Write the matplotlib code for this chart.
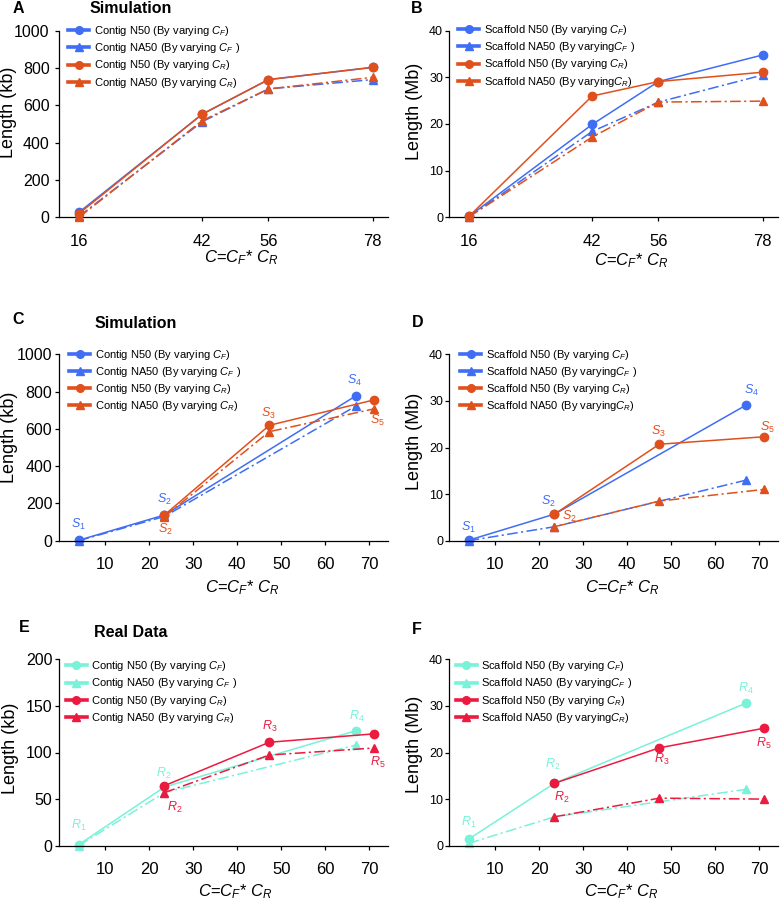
import matplotlib
matplotlib.use("Agg")
import matplotlib.pyplot as plt
from matplotlib.lines import Line2D

plt.rcParams['font.family'] = ['Liberation Sans', 'DejaVu Sans']
plt.rcParams['mathtext.fontset'] = 'custom'
plt.rcParams['mathtext.it'] = 'Liberation Sans:italic'
plt.rcParams['mathtext.rm'] = 'Liberation Sans'
plt.rcParams['mathtext.bf'] = 'Liberation Sans:bold'

BLUE = '#3f6df4'
ORANGE = '#e0501c'
CYAN = '#78f2d8'
RED = '#ec1a3e'

# ---------------- data ----------------
x_ab = [16, 42, 56, 78]
a_n50_cf = [27, 552, 738, 803]
a_na50_cf = [5, 512, 688, 738]
a_n50_cr = [20, 553, 738, 804]
a_na50_cr = [0, 518, 688, 750]

b_n50_cf = [0.2, 19.9, 29.1, 34.8]
b_na50_cf = [0.1, 18.4, 24.7, 30.5]
b_n50_cr = [0.2, 26.0, 29.1, 31.1]
b_na50_cr = [0.1, 17.2, 24.7, 24.9]

x_s_cf = [4, 23.5, 67]       # S1, S2, S4
x_s_cr = [23.5, 47.3, 71]    # S2, S3, S5
c_n50_cf = [2, 138, 778]
c_na50_cf = [0, 130, 723]
c_n50_cr = [138, 619, 755]
c_na50_cr = [129, 585, 707]

d_n50_cf = [0.1, 5.7, 29.1]
d_na50_cf = [0.0, 3.0, 13.0]
d_n50_cr = [5.7, 20.7, 22.3]
d_na50_cr = [3.0, 8.5, 11.0]

x_r_cf = [4, 23.5, 67]       # R1, R2, R4
x_r_cr = [23.5, 47.3, 71]    # R2, R3, R5
e_n50_cf = [1, 63, 123.4]
e_na50_cf = [0, 57, 108]
e_n50_cr = [64.4, 111, 120]
e_na50_cr = [57, 97.3, 104.8]

f_n50_cf = [1.4, 13.4, 30.6]
f_na50_cf = [0.5, 6.2, 12.1]
f_n50_cr = [13.4, 21.0, 25.2]
f_na50_cr = [6.2, 10.2, 10.0]

contig_labels = [r"Contig N50 (By varying $C_F$)", r"Contig NA50 (By varying $C_F$ )",
                 r"Contig N50 (By varying $C_R$)", r"Contig NA50 (By varying $C_R$)"]
scaf_labels = [r"Scaffold N50 (By varying $C_F$)", r"Scaffold NA50 (By varying$C_F$ )",
               r"Scaffold N50 (By varying $C_R$)", r"Scaffold NA50 (By varying$C_R$)"]
xlabel_text = r"$C$=$C_F$* $C_R$"

# ---------------- layout ----------------
W, H = 780, 900
fig = plt.figure(figsize=(7.8, 9.0), dpi=100)

def ax_at(left, top, right, bottom):
    return fig.add_axes([left / W, 1 - bottom / H, (right - left) / W, (bottom - top) / H])

DASH = (0, (7, 2.2, 1.4, 2.2))

def style(ax, ylim, yticks, xlim, xticks, ysize, ypad, xsize=12):
    ax.set_ylim(*ylim)
    ax.set_xlim(*xlim)
    ax.set_yticks(yticks)
    ax.set_xticks(xticks)
    for s in ['top', 'right']:
        ax.spines[s].set_visible(False)
    for s in ['left', 'bottom']:
        ax.spines[s].set_linewidth(0.9)
    ax.tick_params(axis='y', direction='out', length=3, width=0.9, labelsize=ysize, pad=ypad)
    ax.tick_params(axis='x', direction='out', length=3, width=0.9, labelsize=xsize, pad=9)

def series(ax, x, y, color, marker, dashed, ms=6, z=2):
    ls = DASH if dashed else '-'
    ax.plot(x, y, color=color, lw=1.1, linestyle=ls, marker=marker, ms=ms,
            clip_on=False, zorder=z)

def legend(ax, labels, c1, c2, bx, by):
    handles = [Line2D([], [], color=c1, lw=2.6, marker='o', ms=5.5),
               Line2D([], [], color=c1, lw=2.6, marker='^', ms=6),
               Line2D([], [], color=c2, lw=2.6, marker='o', ms=5.5),
               Line2D([], [], color=c2, lw=2.6, marker='^', ms=6)]
    ax.legend(handles, labels, loc='upper left', bbox_to_anchor=(bx, by), frameon=False,
              fontsize=8, handlelength=1.9, handletextpad=0.4, labelspacing=0.28,
              borderpad=0, borderaxespad=0)

def labels(ax, ylab, ly, lx, xlx, xly):
    ax.set_ylabel(ylab, fontsize=13)
    ax.yaxis.set_label_coords(lx, ly)
    ax.yaxis.label.set_verticalalignment('center')
    ax.set_xlabel(xlabel_text, fontsize=12)
    ax.xaxis.set_label_coords(xlx, xly)
    ax.xaxis.label.set_verticalalignment('center')

def tag(ax, txt, x, y, color, dx, dy):
    ax.annotate(txt, (x, y), xytext=(dx * 0.72, dy * 0.72), textcoords='offset points',
                ha='center', va='center', color=color, fontsize=9, annotation_clip=False)

axA = ax_at(59.3, 30.7, 388.3, 217.3)
axB = ax_at(449.3, 30.7, 778.3, 217.3)
axC = ax_at(59.3, 354.3, 388.3, 540.7)
axD = ax_at(449.3, 354.3, 778.3, 540.7)
axE = ax_at(59.3, 659.3, 388.3, 845.7)
axF = ax_at(449.3, 659.3, 778.3, 845.7)

# ---- A ----
style(axA, (0, 1000), [0, 200, 400, 600, 800, 1000], (11.84, 81.3), x_ab, 11.5, 4)
series(axA, x_ab, a_n50_cf, BLUE, 'o', False)
series(axA, x_ab, a_na50_cf, BLUE, '^', True)
series(axA, x_ab, a_n50_cr, ORANGE, 'o', False, z=3)
series(axA, x_ab, a_na50_cr, ORANGE, '^', True, z=3)
legend(axA, contig_labels, BLUE, ORANGE, 0.027, 1.035)
labels(axA, "Length (kb)", 0.564, -0.154, 0.552, -0.218)

# ---- B ----
style(axB, (0, 40), [0, 10, 20, 30, 40], (11.84, 81.3), x_ab, 9, 1.5)
series(axB, x_ab, b_n50_cf, BLUE, 'o', False)
series(axB, x_ab, b_na50_cf, BLUE, '^', True)
series(axB, x_ab, b_n50_cr, ORANGE, 'o', False, z=3)
series(axB, x_ab, b_na50_cr, ORANGE, '^', True, z=3)
legend(axB, scaf_labels, BLUE, ORANGE, 0.027, 1.04)
labels(axB, "Length (Mb)", 0.566, -0.106, 0.552, -0.233)

# ---- C ----
style(axC, (0, 1000), [0, 200, 400, 600, 800, 1000], (-0.37, 74.3), [10, 20, 30, 40, 50, 60, 70], 11.5, 2)
series(axC, x_s_cf, c_n50_cf, BLUE, 'o', False)
series(axC, x_s_cf, c_na50_cf, BLUE, '^', True)
series(axC, x_s_cr, c_n50_cr, ORANGE, 'o', False, z=3)
series(axC, x_s_cr, c_na50_cr, ORANGE, '^', True, z=3)
legend(axC, contig_labels, BLUE, ORANGE, 0.03, 1.035)
labels(axC, "Length (kb)", 0.556, -0.152, 0.557, -0.254)
tag(axC, r"$S_1$", x_s_cf[0], c_n50_cf[0], BLUE, 0, 16)
tag(axC, r"$S_2$", x_s_cf[1], c_n50_cf[1], BLUE, 0, 16)
tag(axC, r"$S_2$", x_s_cr[0], c_n50_cr[0], ORANGE, 1, -14)
tag(axC, r"$S_3$", x_s_cr[1], c_n50_cr[1], ORANGE, -1, 12)
tag(axC, r"$S_4$", x_s_cf[2], c_n50_cf[2], BLUE, -2, 15)
tag(axC, r"$S_5$", x_s_cr[2], c_n50_cr[2], ORANGE, 4, -20)

# ---- D ----
style(axD, (0, 40), [0, 10, 20, 30, 40], (-0.37, 74.3), [10, 20, 30, 40, 50, 60, 70], 9, 1.5)
series(axD, x_s_cf, d_n50_cf, BLUE, 'o', False)
series(axD, x_s_cf, d_na50_cf, BLUE, '^', True)
series(axD, x_s_cr, d_n50_cr, ORANGE, 'o', False, z=3)
series(axD, x_s_cr, d_na50_cr, ORANGE, '^', True, z=3)
legend(axD, scaf_labels, BLUE, ORANGE, 0.033, 1.035)
labels(axD, "Length (Mb)", 0.531, -0.106, 0.526, -0.254)
tag(axD, r"$S_1$", x_s_cf[0], d_n50_cf[0], BLUE, 0, 13)
tag(axD, r"$S_2$", x_s_cf[1], d_n50_cf[1], BLUE, -6, 13)
tag(axD, r"$S_2$", x_s_cr[0], d_na50_cr[0], ORANGE, 15, 10)
tag(axD, r"$S_3$", x_s_cr[1], d_n50_cr[1], ORANGE, -1, 13)
tag(axD, r"$S_4$", x_s_cf[2], d_n50_cf[2], BLUE, 5, 15)
tag(axD, r"$S_5$", x_s_cr[2], d_n50_cr[2], ORANGE, 4, 9.5)

# ---- E ----
style(axE, (0, 200), [0, 50, 100, 150, 200], (-0.37, 74.3), [10, 20, 30, 40, 50, 60, 70], 11.5, 2)
series(axE, x_r_cf, e_n50_cf, CYAN, 'o', False)
series(axE, x_r_cf, e_na50_cf, CYAN, '^', True)
series(axE, x_r_cr, e_n50_cr, RED, 'o', False, z=3)
series(axE, x_r_cr, e_na50_cr, RED, '^', True, z=3)
legend(axE, contig_labels, CYAN, RED, 0.02, 1.0)
labels(axE, "Length (kb)", 0.52, -0.149, 0.534, -0.247)
tag(axE, r"$R_1$", x_r_cf[0], e_n50_cf[0], CYAN, 0, 19)
tag(axE, r"$R_2$", x_r_cf[1], e_n50_cf[1], CYAN, -1, 14)
tag(axE, r"$R_2$", x_r_cr[0], e_na50_cr[0], RED, 10.5, -15)
tag(axE, r"$R_3$", x_r_cr[1], e_n50_cr[1], RED, 0, 16)
tag(axE, r"$R_4$", x_r_cf[2], e_n50_cf[2], CYAN, 1, 14)
tag(axE, r"$R_5$", x_r_cr[2], e_na50_cr[2], RED, 4, -14)

# ---- F ----
style(axF, (0, 40), [0, 10, 20, 30, 40], (-0.37, 74.3), [10, 20, 30, 40, 50, 60, 70], 9, 1.5)
series(axF, x_r_cf, f_n50_cf, CYAN, 'o', False)
series(axF, x_r_cf, f_na50_cf, CYAN, '^', True)
series(axF, x_r_cr, f_n50_cr, RED, 'o', False, z=3)
series(axF, x_r_cr, f_na50_cr, RED, '^', True, z=3)
legend(axF, scaf_labels, CYAN, RED, 0.02, 1.0)
labels(axF, "Length (Mb)", 0.545, -0.106, 0.524, -0.247)
tag(axF, r"$R_1$", x_r_cf[0], f_n50_cf[0], CYAN, 0, 17)
tag(axF, r"$R_2$", x_r_cf[1], f_n50_cf[1], CYAN, -2, 19)
tag(axF, r"$R_2$", x_r_cr[0], f_n50_cr[0], RED, 7, -14)
tag(axF, r"$R_3$", x_r_cr[1], f_n50_cr[1], RED, 2, -12)
tag(axF, r"$R_4$", x_r_cf[2], f_n50_cf[2], CYAN, 0, 15)
tag(axF, r"$R_5$", x_r_cr[2], f_n50_cr[2], RED, 0, -15)

# ---- panel letters & titles ----
def ftext(x, y, s):
    fig.text(x / W, 1 - y / H, s, ha='center', va='center', fontsize=11.5, fontweight='bold')

ftext(18, 8.5, "A")
ftext(131, 8.5, "Simulation")
ftext(417, 8.5, "B")
ftext(18.5, 319, "C")
ftext(135.5, 323.5, "Simulation")
ftext(417.5, 323, "D")
ftext(24, 627, "E")
ftext(131, 632.5, "Real Data")
ftext(417, 630, "F")

fig.savefig("out.png", dpi=100)
